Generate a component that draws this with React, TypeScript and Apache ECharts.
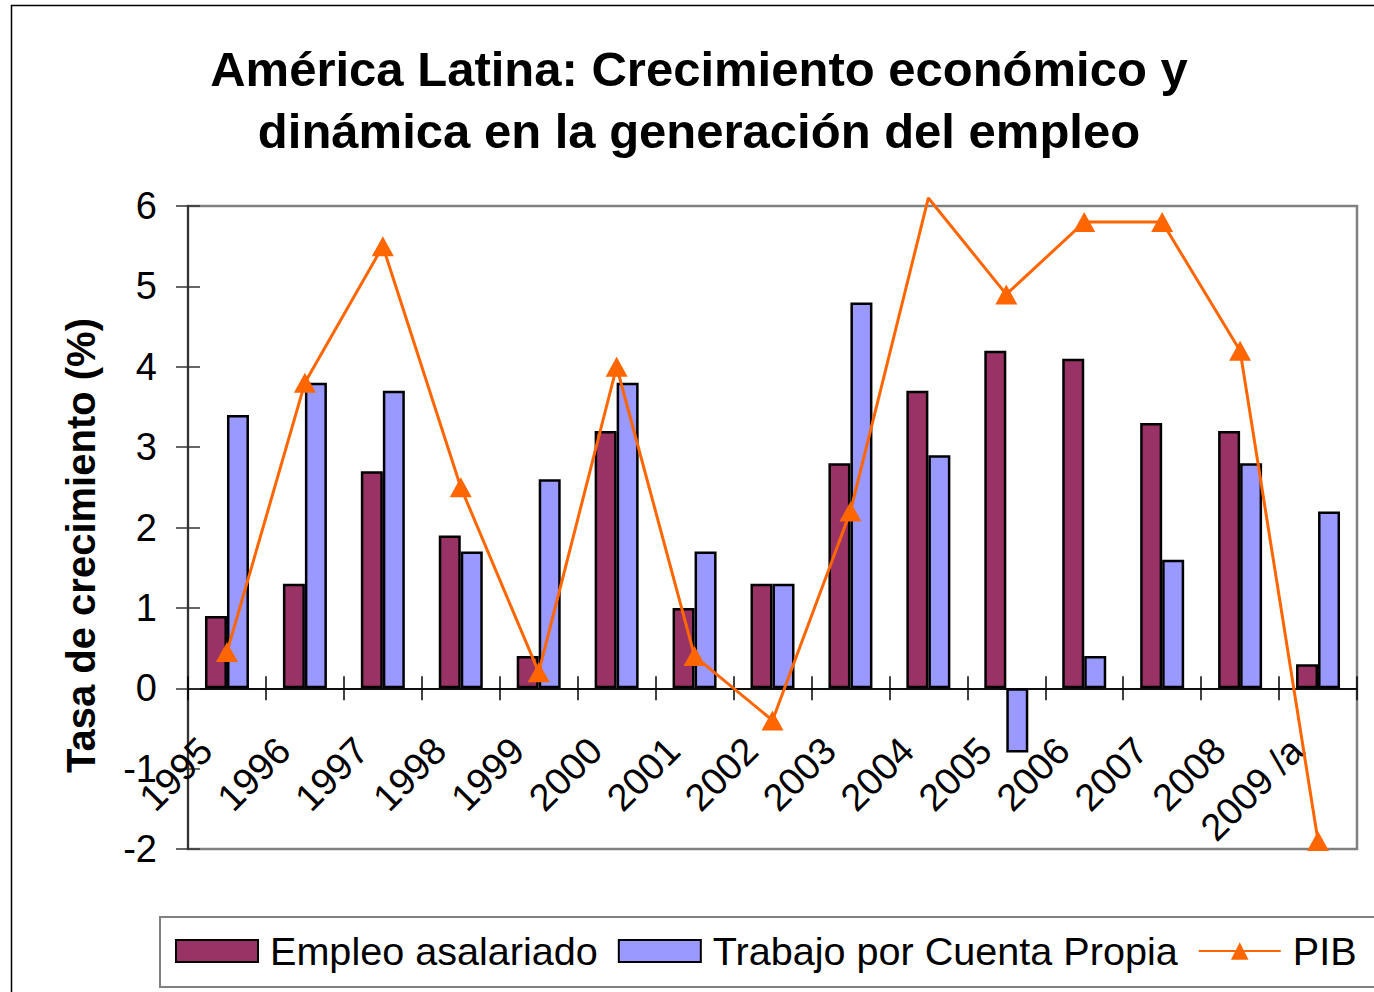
import React, { useEffect, useRef } from "react";
import * as echarts from "echarts";

const years = ["1995", "1996", "1997", "1998", "1999", "2000", "2001", "2002", "2003", "2004", "2005", "2006", "2007", "2008", "2009 /a"];
const empleoAsalariado = [0.9, 1.3, 2.7, 1.9, 0.4, 3.2, 1.0, 1.3, 2.8, 3.7, 4.2, 4.1, 3.3, 3.2, 0.3];
const trabajoCuentaPropia = [3.4, 3.8, 3.7, 1.7, 2.6, 3.8, 1.7, 1.3, 4.8, 2.9, -0.8, 0.4, 1.6, 2.8, 2.2];
const pib = [0.45, 3.8, 5.5, 2.5, 0.2, 4.0, 0.4, -0.4, 2.2, 6.1, 4.9, 5.8, 5.8, 4.2, -1.9];
const yMin = -2;
const yMax = 6;
const yInterval = 1;

const titleText = "América Latina: Crecimiento económico y\ndinámica en la generación del empleo";
const yName = "Tasa de crecimiento (%)";
const seriesNames = ["Empleo asalariado", "Trabajo por Cuenta Propia", "PIB"];

const FONT = "Liberation Sans, Arial, sans-serif";

export default function App() {
  const ref = useRef<HTMLDivElement>(null);
  useEffect(() => {
    if (!ref.current) return;
    const chart = echarts.init(ref.current, null, { renderer: "svg" });
    const axisColor = "#333";
    const yCommon = {
      type: "value",
      min: yMin,
      max: yMax,
      interval: yInterval,
      splitLine: { show: false },
    };
    const xCommon = {
      type: "category",
      data: years,
      boundaryGap: true,
    };
    chart.setOption({
      animation: false,
      backgroundColor: "#fff",
      textStyle: { fontFamily: FONT },
      title: {
        text: titleText,
        left: 699,
        textAlign: "center",
        top: 38,
        padding: 0,
        textStyle: {
          fontFamily: FONT,
          fontWeight: "bold",
          fontSize: 49,
          lineHeight: 62,
          color: "#000",
        },
      },
      graphic: [
        {
          type: "rect",
          silent: true,
          z: -10,
          shape: { x: 11.5, y: 5.5, width: 1420, height: 1020 },
          style: { fill: "none", stroke: "#000", lineWidth: 1.5 },
        },
        {
          type: "rect",
          silent: true,
          z: -10,
          shape: { x: 160, y: 917, width: 1300, height: 70 },
          style: { fill: "none", stroke: "#808080", lineWidth: 2 },
        },
      ],
      legend: {
        left: 175,
        top: 928,
        padding: 0,
        itemGap: 20,
        itemWidth: 82,
        itemHeight: 22,
        textStyle: {
          fontFamily: FONT,
          fontSize: 39.6,
          color: "#000",
          lineHeight: 46,
          padding: [0, 0, 0, 7],
        },
        data: [
          { name: seriesNames[0], icon: "rect" },
          { name: seriesNames[1], icon: "rect" },
          { name: seriesNames[2] },
        ],
      },
      grid: {
        left: 188,
        top: 206,
        right: 17,
        bottom: 143,
        show: true,
        containLabel: false,
        outerBoundsMode: "none",
        borderColor: "#808080",
        borderWidth: 2.5,
        backgroundColor: "transparent",
      },
      xAxis: [
        {
          ...xCommon,
          position: "bottom",
          axisLine: { show: true, onZero: true, onZeroAxisIndex: 0, lineStyle: { color: "#000", width: 1.5 } },
          axisTick: { show: true, inside: false, length: 12, lineStyle: { color: "#000", width: 1.5 } },
          axisLabel: { show: false },
        },
        {
          ...xCommon,
          position: "bottom",
          axisLine: { show: true, onZero: true, onZeroAxisIndex: 0, lineStyle: { color: "#000", width: 1.5 } },
          axisTick: { show: true, inside: true, length: 12, lineStyle: { color: "#000", width: 1.5 } },
          axisLabel: { show: false },
        },
        {
          ...xCommon,
          position: "bottom",
          axisLine: { show: false, onZero: false },
          axisTick: { show: false },
          axisLabel: {
            show: true,
            interval: 0,
            rotate: 45,
            margin: -126,
            padding: [0, 30, 0, 0],
            fontFamily: FONT,
            fontSize: 38,
            color: "#000",
          },
        },
      ],
      yAxis: [
        {
          ...yCommon,
          position: "left",
          name: yName,
          nameLocation: "middle",
          nameRotate: 90,
          nameGap: 87,
          nameTextStyle: {
            fontFamily: FONT,
            fontWeight: "bold",
            fontSize: 40,
            color: "#000",
            padding: [0, 36, 0, 0],
          },
          axisLine: { show: true, lineStyle: { color: axisColor, width: 2 } },
          axisTick: { show: true, inside: false, length: 12, lineStyle: { color: axisColor, width: 1.5 } },
          axisLabel: { show: true, margin: 31, fontFamily: FONT, fontSize: 38, color: "#000" },
        },
        {
          ...yCommon,
          position: "left",
          axisLine: { show: false },
          axisTick: { show: true, inside: true, length: 12, lineStyle: { color: axisColor, width: 1.5 } },
          axisLabel: { show: false },
        },
      ],
      series: [
        {
          name: seriesNames[0],
          type: "bar",
          xAxisIndex: 0,
          yAxisIndex: 0,
          data: empleoAsalariado,
          barWidth: 22,
          barGap: "0%",
          itemStyle: { color: "#993366", borderColor: "#000", borderWidth: 2.5 },
          z: 2,
        },
        {
          name: seriesNames[1],
          type: "bar",
          xAxisIndex: 0,
          yAxisIndex: 0,
          data: trabajoCuentaPropia,
          barWidth: 22,
          barGap: "0%",
          itemStyle: { color: "#9999FF", borderColor: "#000", borderWidth: 2.5 },
          z: 2,
        },
        {
          name: seriesNames[2],
          type: "line",
          xAxisIndex: 0,
          yAxisIndex: 0,
          data: pib.map((v) => (v > yMax ? { value: v, symbol: "none" } : v)),
          clip: false,
          symbol: "triangle",
          symbolSize: [22, 20],
          showAllSymbol: true,
          lineStyle: { color: "#FF6600", width: 3 },
          itemStyle: { color: "#FF6600" },
          z: 5,
        },
      ],
    });
    return () => chart.dispose();
  }, []);
  return (
    <div
      ref={ref}
      style={{ position: "absolute", left: 0, top: 0, width: 1374, height: 992 }}
    />
  );
}
